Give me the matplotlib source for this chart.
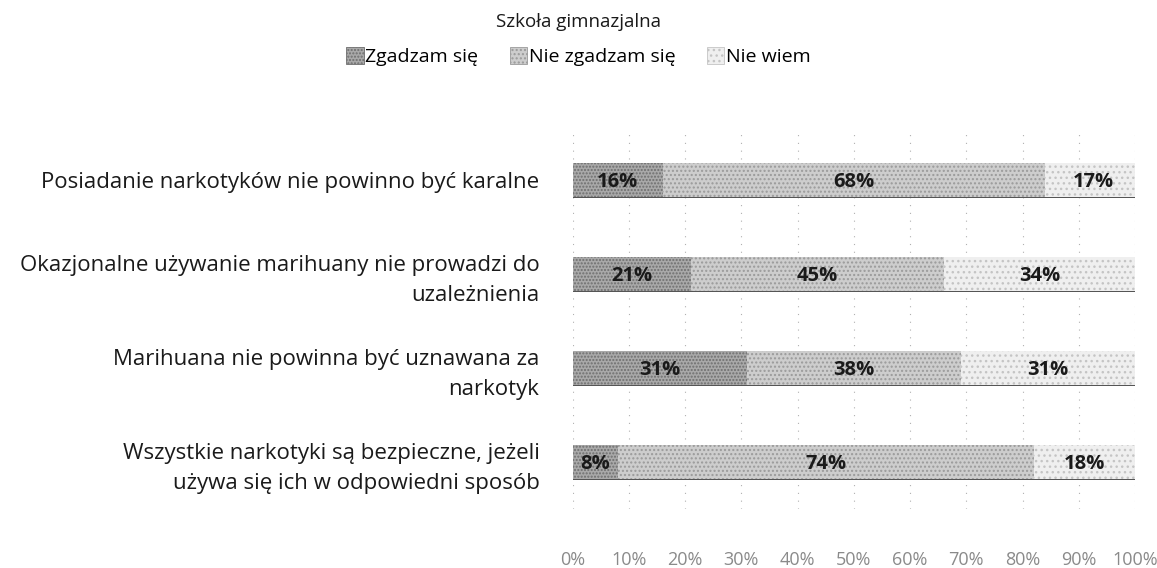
import matplotlib
matplotlib.use('Agg')
import matplotlib.pyplot as plt
from matplotlib.patches import Patch
import numpy as np

categories = [
    'Posiadanie narkotyków nie powinno być karalne',
    'Okazjonalne używanie marihuany nie prowadzi do\nuzależnienia',
    'Marihuana nie powinna być uznawana za\nnarkotyk',
    'Wszystkie narkotyki są bezpieczne, jeżeli\nużywa się ich w odpowiedni sposób',
]
series_names = ['Zgadzam się', 'Nie zgadzam się', 'Nie wiem']
zgadzam = [16, 21, 31, 8]
nie_zgadzam = [68, 45, 38, 74]
nie_wiem = [17, 34, 31, 18]
xticks = list(range(0, 101, 10))

plt.rcParams['font.family'] = ['Open Sans', 'DejaVu Sans']

colors = ['#a9a9a9', '#cdcdcd', '#efefef']
hatch_colors = ['#6e6e6e', '#9a9a9a', '#c4c4c4']
hatches = ['.....', '....', '...']

fig = plt.figure(figsize=(11.57, 5.68), dpi=100)
ax = fig.add_axes([0.495, 0.104, 0.486, 0.662])

y = np.arange(len(categories))
left = np.zeros(len(categories))
for vals, name, c, hc, h in zip([zgadzam, nie_zgadzam, nie_wiem], series_names, colors, hatch_colors, hatches):
    vals = np.array(vals)
    ax.barh(y, vals, left=left, height=0.37, color=c, edgecolor=hc,
            hatch=h, linewidth=0, label=name, zorder=2)
    for yi, l, v in zip(y, left, vals):
        ax.text(l + v / 2, yi + 0.02, f'{v}%', ha='center', va='center',
                fontsize=14.5, fontweight='bold', color='#1a1a1a', zorder=3)
    left = left + vals

# dark edge under bars, like the scan
ax.barh(y + 0.185, left, height=0.015, color='#555555', zorder=2)

ax.set_xlim(0, 100)
ax.set_ylim(3.5, -0.5)
ax.set_xticks(xticks)
ax.set_xticklabels([f'{t}%' for t in xticks], fontsize=13, color='#8a8a8a')
ax.set_yticks(y)
ax.set_yticklabels(categories, fontsize=16, color='#1a1a1a', linespacing=1.55)
ax.tick_params(axis='x', length=0, pad=30)
ax.tick_params(axis='y', length=0, pad=24)
for s in ax.spines.values():
    s.set_visible(False)
ax.grid(axis='x', linestyle=(0, (1, 6)), color='#b0b0b0', linewidth=0.8, zorder=0)

fig.text(0.5, 0.962, 'Szkoła gimnazjalna', ha='center', va='center', fontsize=13.5, color='#1a1a1a')

handles = [Patch(facecolor=c, edgecolor=hc, hatch=h, linewidth=0.6)
           for c, hc, h in zip(colors, hatch_colors, hatches)]
fig.legend(handles, series_names, loc='center', bbox_to_anchor=(0.5, 0.9), ncol=3,
           frameon=False, fontsize=14, handlelength=0.9, handleheight=0.9,
           handletextpad=0.1, columnspacing=1.6)

fig.savefig('out.png', dpi=100, facecolor='white')
